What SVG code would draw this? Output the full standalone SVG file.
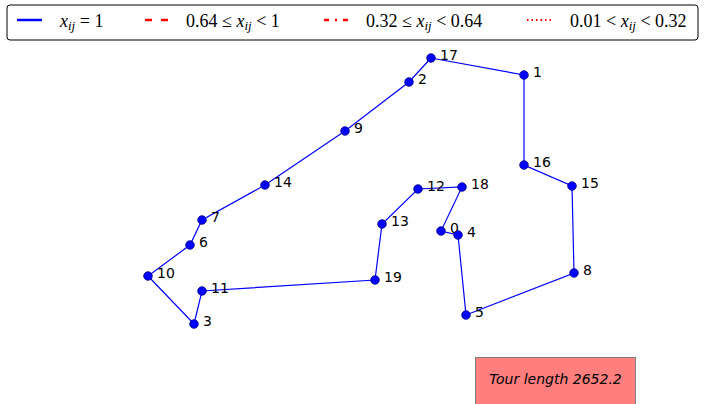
<svg xmlns="http://www.w3.org/2000/svg" width="707" height="404" viewBox="0 0 707 404">
<style>
.e{stroke:#0000ff;stroke-width:1.2;fill:none}
.n circle{fill:#0000ff;stroke:#00007f;stroke-width:0.8}
.n text{font-family:"DejaVu Sans",sans-serif;font-size:14px;fill:#000}
.m{font-family:"Liberation Serif",serif;font-size:18px;fill:#000}
.i{font-style:italic}
</style>
<rect width="707" height="404" fill="#fff"/>
<g id="legend">
<rect x="7" y="5" width="691" height="35" rx="3" fill="#fff" stroke="#000" stroke-width="1"/>
<line x1="17" y1="20" x2="42" y2="20" stroke="#0000ff" stroke-width="2.5"/>
<text class="m" x="60" y="27"><tspan class="i">x</tspan><tspan class="i" font-size="13" dy="3">ij</tspan><tspan dy="-3"> = 1</tspan></text>
<line x1="145" y1="20" x2="170" y2="20" stroke="#ff0000" stroke-width="2.5" stroke-dasharray="7,9"/>
<text class="m" x="186" y="27">0.64 ≤ <tspan class="i">x</tspan><tspan class="i" font-size="13" dy="3">ij</tspan><tspan dy="-3"> &lt; 1</tspan></text>
<line x1="324" y1="20" x2="348" y2="20" stroke="#ff0000" stroke-width="2.5" stroke-dasharray="5,6,2,6"/>
<text class="m" x="366" y="27">0.32 ≤ <tspan class="i">x</tspan><tspan class="i" font-size="13" dy="3">ij</tspan><tspan dy="-3"> &lt; 0.64</tspan></text>
<line x1="527" y1="20" x2="552" y2="20" stroke="#ff0000" stroke-width="2" stroke-dasharray="1.5,3"/>
<text class="m" x="570" y="27">0.01 &lt; <tspan class="i">x</tspan><tspan class="i" font-size="13" dy="3">ij</tspan><tspan dy="-3"> &lt; 0.32</tspan></text>
</g>
<g id="edges">
<polyline class="e" points="431,58 524,75 524,165 572,186 574,273 466,315 458,235 441,231 462,187 418,189 382,224 375,280 202,291 194,324 148,276 190,245 202,220 265,185 345,131 409,82 431,58"/>
</g>
<g id="n0" class="n"><circle cx="441" cy="231" r="4.3"/><text x="450" y="233">0</text></g>
<g id="n1" class="n"><circle cx="524" cy="75" r="4.3"/><text x="533" y="77">1</text></g>
<g id="n2" class="n"><circle cx="409" cy="82" r="4.3"/><text x="418" y="84">2</text></g>
<g id="n3" class="n"><circle cx="194" cy="324" r="4.3"/><text x="203" y="326">3</text></g>
<g id="n4" class="n"><circle cx="458" cy="235" r="4.3"/><text x="467" y="237">4</text></g>
<g id="n5" class="n"><circle cx="466" cy="315" r="4.3"/><text x="475" y="317">5</text></g>
<g id="n6" class="n"><circle cx="190" cy="245" r="4.3"/><text x="199" y="247">6</text></g>
<g id="n7" class="n"><circle cx="202" cy="220" r="4.3"/><text x="211" y="222">7</text></g>
<g id="n8" class="n"><circle cx="574" cy="273" r="4.3"/><text x="583" y="275">8</text></g>
<g id="n9" class="n"><circle cx="345" cy="131" r="4.3"/><text x="354" y="133">9</text></g>
<g id="n10" class="n"><circle cx="148" cy="276" r="4.3"/><text x="157" y="278">10</text></g>
<g id="n11" class="n"><circle cx="202" cy="291" r="4.3"/><text x="211" y="293">11</text></g>
<g id="n12" class="n"><circle cx="418" cy="189" r="4.3"/><text x="427" y="191">12</text></g>
<g id="n13" class="n"><circle cx="382" cy="224" r="4.3"/><text x="391" y="226">13</text></g>
<g id="n14" class="n"><circle cx="265" cy="185" r="4.3"/><text x="274" y="187">14</text></g>
<g id="n15" class="n"><circle cx="572" cy="186" r="4.3"/><text x="581" y="188">15</text></g>
<g id="n16" class="n"><circle cx="524" cy="165" r="4.3"/><text x="533" y="167">16</text></g>
<g id="n17" class="n"><circle cx="431" cy="58" r="4.3"/><text x="440" y="60">17</text></g>
<g id="n18" class="n"><circle cx="462" cy="187" r="4.3"/><text x="471" y="189">18</text></g>
<g id="n19" class="n"><circle cx="375" cy="280" r="4.3"/><text x="384" y="282">19</text></g>
<g id="tour">
<rect x="475.5" y="357.5" width="160" height="50" fill="#ff7f7f" stroke="#7f7f7f" stroke-width="1"/>
<text x="555.5" y="384" text-anchor="middle" font-family="DejaVu Sans, sans-serif" font-size="14" font-style="italic" fill="#000">Tour length 2652.2</text>
</g>
</svg>
